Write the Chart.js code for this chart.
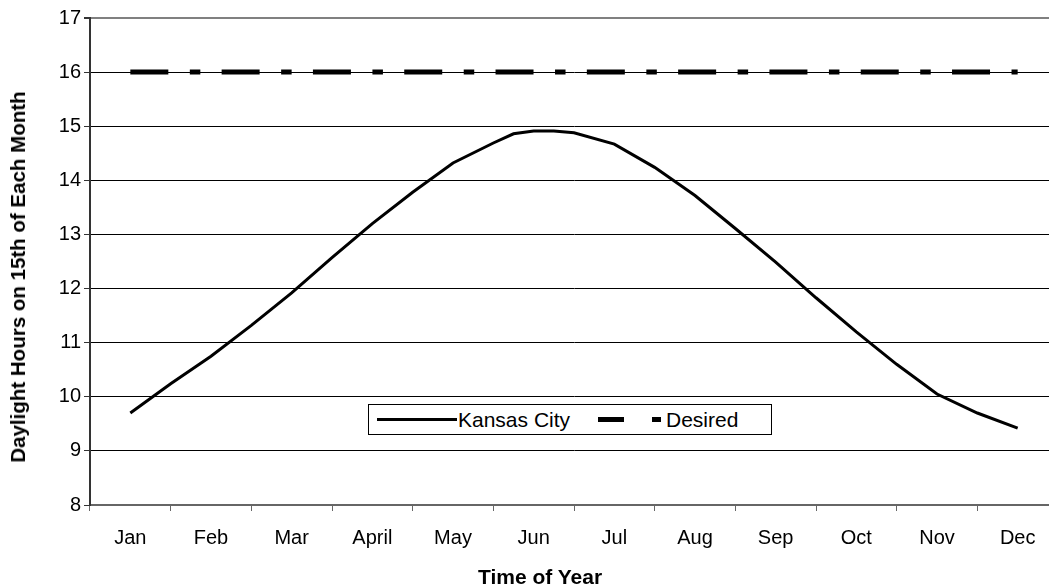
<!DOCTYPE html>
<html>
<head>
<meta charset="utf-8">
<script src="https://cdn.jsdelivr.net/npm/chart.js@4"></script>
<style>
  html, body { margin: 0; padding: 0; background: #fff; overflow: hidden; }
  #wrap { position: absolute; left: 0; top: 0; width: 1058px; height: 588px; }
  .txt { font-family: 'Liberation Sans', Arial, sans-serif; color: #000; white-space: nowrap; }
  #legend { position: absolute; left: 368px; top: 404px; width: 402px; height: 29px;
            border: 1px solid #000; background: #fff; font-size: 21px; }
  #legend .s { position: absolute; background: #000; }
  #legend .t { position: absolute; top: 3px; line-height: 23px; }
  #xTitle { position: absolute; left: 540px; top: 577px; transform: translate(-50%, -50%);
            font-size: 21px; font-weight: bold; }
  #yTitle { position: absolute; left: 18px; top: 277px; transform: translate(-50%, -50%) rotate(-90deg);
            font-size: 20.5px; font-weight: bold; }
</style>
</head>
<body>
<div id="wrap"><canvas id="daylightChart"></canvas></div>
<div id="legend" class="txt">
  <span class="s" style="left:8px; top:13px; width:80px; height:3px;"></span>
  <span class="t" style="left:89px;">Kansas City</span>
  <span class="s" style="left:229px; top:12px; width:26px; height:5px;"></span>
  <span class="s" style="left:283px; top:12px; width:9px; height:5px;"></span>
  <span class="t" style="left:297px;">Desired</span>
</div>
<div id="xTitle" class="txt">Time of Year</div>
<div id="yTitle" class="txt">Daylight Hours on 15th of Each Month</div>
<script>
// categorias e valores
const monthLabels = ['Jan', 'Feb', 'Mar', 'April', 'May', 'Jun', 'Jul', 'Aug', 'Sep', 'Oct', 'Nov', 'Dec'];
const hourMin = 8;
const hourMax = 17;

// posição em meses (0 = início de Jan) e horas de luz
const kcMonthPos = [0.5, 1, 1.5, 2, 2.5, 3, 3.5, 4, 4.5, 5, 5.25, 5.5, 5.75, 6, 6.5, 7, 7.5, 8, 8.5, 9, 9.5, 10, 10.5, 11, 11.5];
const kcHours = [9.70, 10.24, 10.75, 11.32, 11.92, 12.57, 13.20, 13.78, 14.32, 14.69, 14.86, 14.91, 14.91, 14.88, 14.67, 14.24, 13.72, 13.11, 12.49, 11.83, 11.20, 10.60, 10.05, 9.70, 9.42];

const desiredMonthPos = [0.5, 1.5, 2.5, 3.5, 4.5, 5.5, 6.5, 7.5, 8.5, 9.5, 10.5, 11.5];
const desiredHours = [16, 16, 16, 16, 16, 16, 16, 16, 16, 16, 16, 16];

document.addEventListener('DOMContentLoaded', function() {
    var font = "'Liberation Sans', Arial, sans-serif";
    var ctx = document.getElementById('daylightChart').getContext('2d');

    var chart = new Chart(ctx, {
        type: 'line',
        data: {
            datasets: [{
                label: 'Kansas City',
                data: kcMonthPos.map(function(m, i) { return { x: m, y: kcHours[i] }; }),
                xAxisID: 'x2',
                borderColor: '#000',
                borderWidth: 3,
                pointRadius: 0,
                tension: 0,
                fill: false
            }, {
                label: 'Desired',
                data: desiredMonthPos.map(function(m, i) { return { x: m, y: desiredHours[i] }; }),
                xAxisID: 'x2',
                borderColor: '#000',
                borderWidth: 5,
                borderDash: [38, 21.5, 10.5, 21.3],
                borderCapStyle: 'butt',
                pointRadius: 0,
                fill: false
            }]
        },
        options: {
            responsive: true,
            maintainAspectRatio: false,
            animation: false,
            layout: { padding: { top: 18, left: 0, right: 0, bottom: 0 } },
            plugins: {
                legend: { display: false },
                tooltip: { enabled: false }
            },
            scales: {
                x: {
                    type: 'category',
                    labels: monthLabels,
                    offset: true,
                    grid: {
                        offset: true,
                        drawOnChartArea: false,
                        drawTicks: true,
                        tickLength: 6,
                        color: '#666'
                    },
                    border: { color: '#666', width: 2 },
                    ticks: { color: '#000', font: { family: font, size: 20 }, padding: 15, maxRotation: 0, autoSkip: false },
                    afterFit: function(scale) { scale.height = 83; }
                },
                x2: {
                    type: 'linear',
                    display: false,
                    min: 0,
                    max: 12
                },
                y: {
                    min: hourMin,
                    max: hourMax,
                    ticks: { stepSize: 1, color: '#000', font: { family: font, size: 20 }, padding: 3 },
                    grid: {
                        color: function(c) { return c.tick && c.tick.value === hourMax ? '#808080' : '#000'; },
                        lineWidth: function(c) { return c.tick && c.tick.value === hourMax ? 2 : 1; },
                        tickLength: 6,
                        tickColor: '#333'
                    },
                    border: { color: '#333', width: 2 },
                    afterFit: function(scale) { scale.width = 90; }
                }
            }
        }
    });
});
</script>
</body>
</html>
